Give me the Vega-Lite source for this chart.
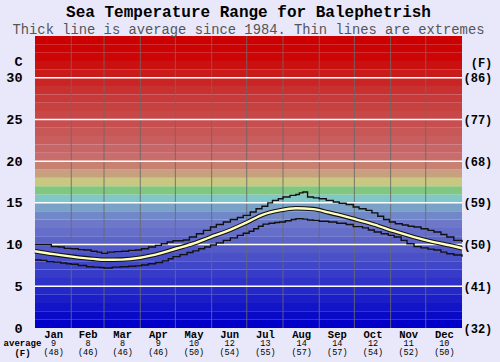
{
  "$schema": "https://vega.github.io/schema/vega-lite/v6.json",
  "width": 427,
  "height": 292,
  "autosize": {"type": "none"},
  "padding": {"left": 35, "top": 36, "right": 38, "bottom": 34},
  "background": "#e8e8fa",
  "title": {
    "text": "Sea Temperature Range for Balephetrish",
    "subtitle": "Thick line is average since 1984. Thin lines are extremes",
    "font": "Liberation Mono", "fontSize": 16, "fontWeight": "bold", "color": "#000",
    "subtitleFont": "Liberation Mono", "subtitleFontSize": 13.8, "subtitleColor": "#555", "subtitleFontWeight": "normal",
    "subtitlePadding": 3, "anchor": "middle", "frame": "group", "offset": -1
  },
  "datasets": {
    "bands": [
      {"lo":0,"hi":1},{"lo":1,"hi":2},{"lo":2,"hi":3},{"lo":3,"hi":4},{"lo":4,"hi":5},{"lo":5,"hi":6},{"lo":6,"hi":7},{"lo":7,"hi":8},{"lo":8,"hi":9},{"lo":9,"hi":10},
      {"lo":10,"hi":11},{"lo":11,"hi":12},{"lo":12,"hi":13},{"lo":13,"hi":14},{"lo":14,"hi":15},{"lo":15,"hi":16},{"lo":16,"hi":17},{"lo":17,"hi":18},{"lo":18,"hi":19},{"lo":19,"hi":20},
      {"lo":20,"hi":21},{"lo":21,"hi":22},{"lo":22,"hi":23},{"lo":23,"hi":24},{"lo":24,"hi":25},{"lo":25,"hi":26},{"lo":26,"hi":27},{"lo":27,"hi":28},{"lo":28,"hi":29},{"lo":29,"hi":30},
      {"lo":30,"hi":31},{"lo":31,"hi":32},{"lo":32,"hi":33},{"lo":33,"hi":34},{"lo":34,"hi":35}
    ],
    "months": [{"d":31},{"d":59},{"d":90},{"d":120},{"d":151},{"d":181},{"d":212},{"d":243},{"d":273},{"d":304},{"d":334}],
    "grid": [{"v":5},{"v":10},{"v":15},{"v":20},{"v":25},{"v":30}],
    "avg": [
      {"day":0,"t":9.2},{"day":16,"t":8.85},{"day":33,"t":8.53},{"day":50,"t":8.28},{"day":60,"t":8.18},{"day":74,"t":8.2},
      {"day":90,"t":8.42},{"day":107,"t":8.94},{"day":121,"t":9.53},{"day":135,"t":10.1},{"day":150,"t":10.9},{"day":164,"t":11.6},
      {"day":181,"t":12.65},{"day":195,"t":13.6},{"day":209,"t":14.1},{"day":223,"t":14.35},{"day":238,"t":14.25},{"day":251,"t":13.85},
      {"day":272,"t":13.1},{"day":290,"t":12.4},{"day":307,"t":11.6},{"day":324,"t":10.9},{"day":341,"t":10.3},{"day":358,"t":9.8},{"day":365,"t":9.55}
    ],
    "hi": [
      {"day":0,"t":10.0},{"day":7,"t":10.0},{"day":14,"t":9.75},{"day":20,"t":9.7},{"day":25,"t":9.55},{"day":31,"t":9.5},{"day":37,"t":9.4},{"day":42,"t":9.35},
      {"day":48,"t":9.2},{"day":53,"t":9.1},{"day":57,"t":8.95},{"day":62,"t":9.1},{"day":68,"t":9.15},{"day":74,"t":9.2},{"day":80,"t":9.3},{"day":86,"t":9.35},
      {"day":91,"t":9.5},{"day":97,"t":9.7},{"day":103,"t":9.9},{"day":108,"t":10.1},{"day":113,"t":10.3},{"day":118,"t":10.45},{"day":127,"t":10.55},{"day":132,"t":10.9},
      {"day":138,"t":11.3},{"day":144,"t":11.7},{"day":150,"t":12.1},{"day":155,"t":12.4},{"day":161,"t":12.7},{"day":167,"t":13.0},{"day":173,"t":13.25},{"day":178,"t":13.5},
      {"day":184,"t":13.9},{"day":189,"t":14.3},{"day":194,"t":14.6},{"day":199,"t":15.0},{"day":203,"t":15.3},{"day":208,"t":15.5},{"day":212,"t":15.7},{"day":218,"t":15.9},
      {"day":223,"t":16.0},{"day":226,"t":16.2},{"day":229,"t":16.3},{"day":233,"t":15.7},{"day":238,"t":15.6},{"day":243,"t":15.5},{"day":249,"t":15.3},{"day":255,"t":15.1},
      {"day":260,"t":14.95},{"day":266,"t":14.8},{"day":272,"t":14.5},{"day":277,"t":14.3},{"day":283,"t":14.1},{"day":288,"t":13.8},{"day":293,"t":13.4},{"day":298,"t":13.0},
      {"day":303,"t":12.7},{"day":308,"t":12.5},{"day":314,"t":12.35},{"day":319,"t":12.2},{"day":324,"t":12.1},{"day":330,"t":11.9},{"day":336,"t":11.7},{"day":341,"t":11.5},
      {"day":347,"t":11.2},{"day":352,"t":10.9},{"day":358,"t":10.5},{"day":365,"t":10.3}
    ],
    "lo": [
      {"day":0,"t":8.15},{"day":5,"t":8.1},{"day":10,"t":7.95},{"day":16,"t":7.9},{"day":22,"t":7.8},{"day":27,"t":7.7},{"day":31,"t":7.65},{"day":37,"t":7.5},
      {"day":44,"t":7.35},{"day":50,"t":7.3},{"day":55,"t":7.25},{"day":59,"t":7.2},{"day":66,"t":7.3},{"day":73,"t":7.35},{"day":80,"t":7.4},{"day":86,"t":7.45},
      {"day":91,"t":7.55},{"day":97,"t":7.7},{"day":103,"t":7.85},{"day":109,"t":8.05},{"day":114,"t":8.3},{"day":118,"t":8.55},{"day":124,"t":8.8},{"day":130,"t":9.05},
      {"day":135,"t":9.25},{"day":140,"t":9.5},{"day":145,"t":9.7},{"day":150,"t":9.95},{"day":155,"t":10.2},{"day":161,"t":10.5},{"day":167,"t":10.8},{"day":173,"t":11.1},
      {"day":178,"t":11.35},{"day":183,"t":11.6},{"day":187,"t":11.9},{"day":191,"t":12.2},{"day":195,"t":12.45},{"day":200,"t":12.55},{"day":205,"t":12.65},{"day":209,"t":12.7},
      {"day":214,"t":12.85},{"day":219,"t":13.0},{"day":223,"t":13.1},{"day":229,"t":13.05},{"day":233,"t":12.95},{"day":238,"t":12.9},{"day":243,"t":12.8},{"day":251,"t":12.7},
      {"day":258,"t":12.55},{"day":266,"t":12.4},{"day":272,"t":12.15},{"day":280,"t":12.0},{"day":285,"t":11.75},{"day":290,"t":11.5},{"day":296,"t":11.3},{"day":302,"t":11.1},
      {"day":307,"t":10.9},{"day":313,"t":10.5},{"day":318,"t":10.1},{"day":324,"t":9.75},{"day":330,"t":9.6},{"day":336,"t":9.45},{"day":341,"t":9.35},{"day":347,"t":9.1},
      {"day":352,"t":8.9},{"day":358,"t":8.75},{"day":365,"t":8.55}
    ]
  },
  "layer": [
    {
      "data": {"name": "bands"},
      "mark": {"type": "rect"},
      "encoding": {
        "y": {"field": "lo", "type": "quantitative", "scale": {"domain": [0, 35], "nice": false, "zero": false},
          "axis": {"orient": "left", "values": [0,5,10,15,20,25,30], "labelFont": "Liberation Mono", "labelFontWeight": "bold", "labelFontSize": 13.5,
            "labelPadding": 13, "labelBaseline": "middle", "grid": false, "ticks": false, "tickSize": 0, "domain": false,
            "title": "C", "titleAngle": 0, "titleX": -13, "titleY": 25, "titleAlign": "right", "titleBaseline": "middle",
            "titleFont": "Liberation Mono", "titleFontWeight": "bold", "titleFontSize": 13.5, "titleColor": "#000", "labelColor": "#000"}},
        "y2": {"field": "hi"},
        "color": {"field": "lo", "type": "quantitative", "legend": null,
          "scale": {"type": "linear", "interpolate": "rgb",
            "domain": [0, 12, 13, 14, 15, 16, 17, 18, 19, 20, 27, 32, 34],
            "range": ["#0000c8", "#6e78c8", "#7088c8", "#7aa2c8", "#80c8c8", "#80c880", "#c8c880", "#c8a080", "#c88070", "#c86c6c", "#c83a3a", "#cc0606", "#cc0000"]}}
      }
    },
    {
      "data": {"name": "months"},
      "mark": {"type": "rule", "color": "#6a6a6a", "strokeWidth": 1, "opacity": 0.85},
      "encoding": {
        "x": {"field": "d", "type": "quantitative", "scale": {"domain": [0, 365], "nice": false, "zero": false},
          "axis": {"orient": "bottom", "values": [15.5,45,74.5,105,135.5,166,196.5,227.5,258,288.5,319,349.5],
            "labelExpr": "['Jan','Feb','Mar','Apr','May','Jun','Jul','Aug','Sep','Oct','Nov','Dec'][floor(datum.value/30.42)]",
            "labelFont": "Liberation Mono", "labelFontWeight": "bold", "labelFontSize": 10.5, "labelBaseline": "middle", "labelPadding": 6,
            "labelFlush": false, "labelOverlap": false, "labelColor": "#000",
            "grid": false, "ticks": false, "tickSize": 0, "domain": false, "title": null}}
      }
    },
    {
      "data": {"name": "grid"},
      "mark": {"type": "rule", "color": "#ffffff", "strokeWidth": 1.5},
      "encoding": {
        "y": {"field": "v", "type": "quantitative", "scale": {"domain": [0, 35], "nice": false, "zero": false},
          "axis": {"orient": "right", "values": [0,5,10,15,20,25,30],
            "labelExpr": "'(' + format(datum.value*9/5+32, 'd') + ')'",
            "labelFont": "Liberation Mono", "labelFontWeight": "bold", "labelFontSize": 12, "labelPadding": 1, "labelAlign": "left",
            "labelBaseline": "middle", "labelColor": "#000",
            "grid": false, "ticks": false, "tickSize": 0, "domain": false,
            "title": "(F)", "titleAngle": 0, "titleX": 19, "titleY": 26, "titleAlign": "center", "titleBaseline": "middle",
            "titleFont": "Liberation Mono", "titleFontWeight": "bold", "titleFontSize": 12, "titleColor": "#000"}}
      }
    },
    {
      "data": {"name": "lo"},
      "mark": {"type": "line", "interpolate": "step-after", "color": "#111", "strokeWidth": 1.4},
      "encoding": {
        "x": {"field": "day", "type": "quantitative", "scale": {"domain": [0, 365], "nice": false, "zero": false}, "axis": null},
        "y": {"field": "t", "type": "quantitative", "scale": {"domain": [0, 35], "nice": false, "zero": false}, "axis": null}
      }
    },
    {
      "data": {"name": "hi"},
      "mark": {"type": "line", "interpolate": "step-after", "color": "#111", "strokeWidth": 1.4},
      "encoding": {
        "x": {"field": "day", "type": "quantitative", "scale": {"domain": [0, 365], "nice": false, "zero": false}, "axis": null},
        "y": {"field": "t", "type": "quantitative", "scale": {"domain": [0, 35], "nice": false, "zero": false}, "axis": null}
      }
    },
    {
      "data": {"name": "avg"},
      "mark": {"type": "line", "interpolate": "monotone", "color": "#111", "strokeWidth": 4.5},
      "encoding": {
        "x": {"field": "day", "type": "quantitative", "scale": {"domain": [0, 365], "nice": false, "zero": false},
          "axis": {"orient": "bottom", "values": [15.5,45,74.5,105,135.5,166,196.5,227.5,258,288.5,319,349.5],
            "labelExpr": "[['9','(48)'],['8','(46)'],['8','(46)'],['9','(46)'],['10','(50)'],['12','(54)'],['13','(55)'],['14','(57)'],['14','(57)'],['12','(54)'],['11','(52)'],['10','(50)']][floor(datum.value/30.42)]",
            "labelFont": "Liberation Mono", "labelFontSize": 8.5, "labelLineHeight": 9, "labelBaseline": "middle", "labelPadding": 14.5,
            "labelFlush": false, "labelOverlap": false, "labelColor": "#000",
            "grid": false, "ticks": false, "tickSize": 0, "domain": false,
            "title": ["average", "(F)"], "titleX": -13, "titleY": 14.5, "titleAlign": "center", "titleBaseline": "middle", "titleAngle": 0,
            "titleFont": "Liberation Mono", "titleFontWeight": "bold", "titleFontSize": 9, "titleLineHeight": 9.5, "titleColor": "#000"}},
        "y": {"field": "t", "type": "quantitative", "scale": {"domain": [0, 35], "nice": false, "zero": false}, "axis": null}
      }
    },
    {
      "data": {"name": "avg"},
      "mark": {"type": "line", "interpolate": "monotone", "color": "#ffffbe", "strokeWidth": 2.4},
      "encoding": {
        "x": {"field": "day", "type": "quantitative", "scale": {"domain": [0, 365], "nice": false, "zero": false}, "axis": null},
        "y": {"field": "t", "type": "quantitative", "scale": {"domain": [0, 35], "nice": false, "zero": false}, "axis": null}
      }
    }
  ],
  "resolve": {"axis": {"x": "independent", "y": "independent"}},
  "config": {"view": {"stroke": null}}
}
